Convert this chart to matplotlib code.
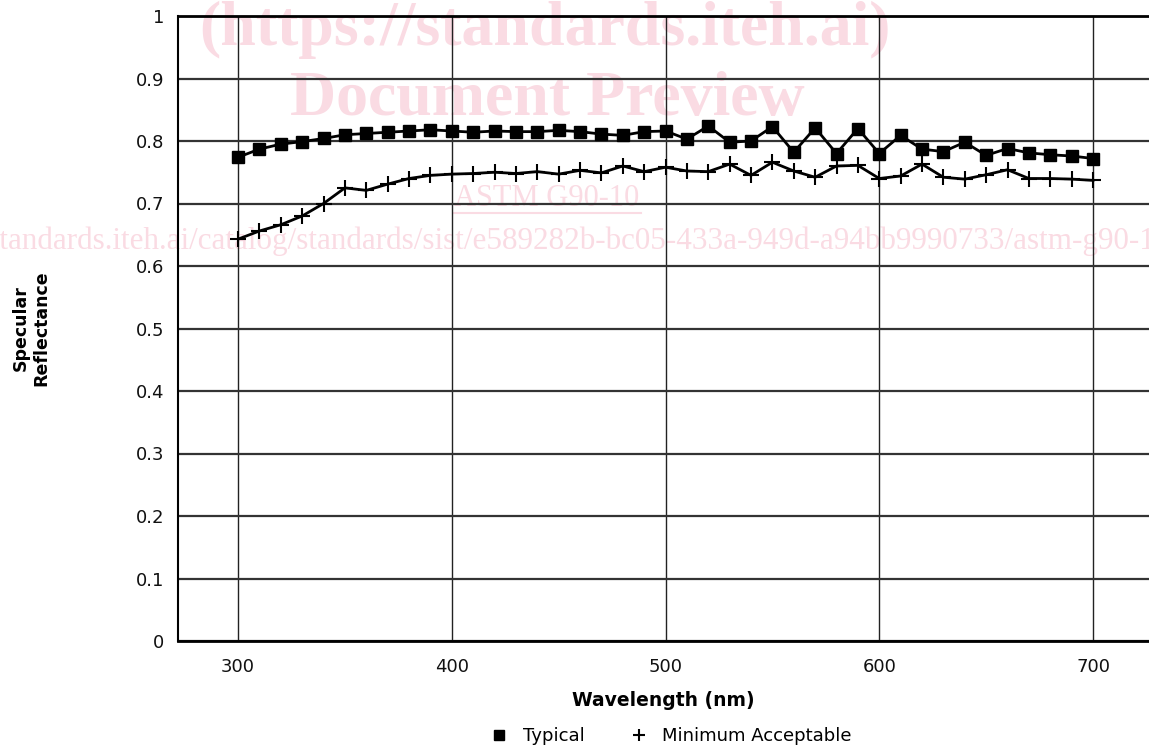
import matplotlib
matplotlib.use("Agg")
import matplotlib.pyplot as plt
from matplotlib.lines import Line2D

# wavelength grid (nm) and the two reflectance curves
wavelength = [300, 310, 320, 330, 340, 350, 360, 370, 380, 390,
              400, 410, 420, 430, 440, 450, 460, 470, 480, 490,
              500, 510, 520, 530, 540, 550, 560, 570, 580, 590,
              600, 610, 620, 630, 640, 650, 660, 670, 680, 690, 700]
typical = [0.774, 0.787, 0.795, 0.799, 0.804, 0.810, 0.812, 0.814, 0.816, 0.818,
           0.816, 0.814, 0.816, 0.815, 0.815, 0.817, 0.815, 0.811, 0.809, 0.815,
           0.816, 0.803, 0.824, 0.798, 0.800, 0.823, 0.782, 0.821, 0.780, 0.820,
           0.780, 0.809, 0.787, 0.783, 0.798, 0.777, 0.788, 0.781, 0.778, 0.776, 0.772]
minimum = [0.643, 0.656, 0.666, 0.680, 0.700, 0.725, 0.721, 0.731, 0.740, 0.745,
           0.747, 0.748, 0.750, 0.748, 0.751, 0.747, 0.753, 0.749, 0.760, 0.751,
           0.758, 0.752, 0.751, 0.763, 0.745, 0.766, 0.752, 0.742, 0.760, 0.761,
           0.740, 0.744, 0.763, 0.742, 0.739, 0.746, 0.754, 0.740, 0.740, 0.739, 0.737]

x_ticks = [300, 400, 500, 600, 700]
y_ticks = [0, 0.1, 0.2, 0.3, 0.4, 0.5, 0.6, 0.7, 0.8, 0.9, 1.0]
y_labels = ["0", "0.1", "0.2", "0.3", "0.4", "0.5", "0.6", "0.7", "0.8", "0.9", "1"]

plt.rcParams["font.family"] = ["DejaVu Sans"]

fig = plt.figure(figsize=(11.49, 7.5), dpi=100)
ax = fig.add_axes([178 / 1149, 109 / 750, 971 / 1149, 625 / 750])
ax.patch.set_visible(False)

# watermark, drawn behind the axes
pink = "#fadbe3"
wm = dict(color=pink, family="Liberation Serif", ha="center", va="center", zorder=-5)
fig.text(545 / 1149, 1 - 30 / 750, "(https://standards.iteh.ai)", fontsize=46, weight="bold", **wm)
fig.text(547 / 1149, 1 - 100 / 750, "Document Preview", fontsize=46, weight="bold", **wm)
fig.text(547 / 1149, 1 - 199 / 750, "ASTM G90-10", fontsize=22, **wm)
fig.add_artist(Line2D([453 / 1149, 641 / 1149], [1 - 213 / 750] * 2, color=pink, lw=1.5, zorder=-5))
fig.text(536 / 1149, 1 - 241 / 750,
         "https://standards.iteh.ai/catalog/standards/sist/e589282b-bc05-433a-949d-a94bb9990733/astm-g90-10",
         fontsize=22.4, **wm)

ax.plot(wavelength, typical, color="black", lw=2, marker="s", ms=8, zorder=4)
ax.plot(wavelength, minimum, color="black", lw=2, marker="+", ms=11, mew=1.5, zorder=4)

ax.set_xlim(271.9, 726.2)
ax.set_ylim(0, 1)
ax.set_xticks(x_ticks)
ax.set_yticks(y_ticks)
ax.set_yticklabels(y_labels)
ax.tick_params(length=0, labelsize=13, colors="#111111")
ax.tick_params(axis="y", pad=10)
ax.tick_params(axis="x", pad=12)

ax.grid(axis="y", color="#333333", lw=1.6, zorder=1)
ax.grid(axis="x", color="#222222", lw=1.0, zorder=1)
ax.set_axisbelow(True)

for side in ["left", "bottom", "top"]:
    ax.spines[side].set_color("black")
    ax.spines[side].set_linewidth(2)
ax.spines["left"].set_linewidth(1.5)
ax.spines["right"].set_visible(False)

ax.set_xlabel("Wavelength (nm)", fontsize=13.5, weight="bold", labelpad=11)
fig.text(31 / 1149, 1 - 328 / 750, "Specular\nReflectance", rotation=90, fontsize=12.5,
         weight="bold", ha="center", va="center", multialignment="center")

handles = [
    Line2D([], [], color="black", marker="s", ls="none", ms=7, label="Typical"),
    Line2D([], [], color="black", marker="+", ls="none", ms=9, mew=1.5, label="Minimum Acceptable"),
]
fig.legend(handles=handles, loc="center", bbox_to_anchor=(672 / 1149, 1 - 736 / 750), ncol=2,
           frameon=False, fontsize=13, handlelength=0.8, handletextpad=0.9, columnspacing=2.6)

fig.savefig("out.png", dpi=100)
